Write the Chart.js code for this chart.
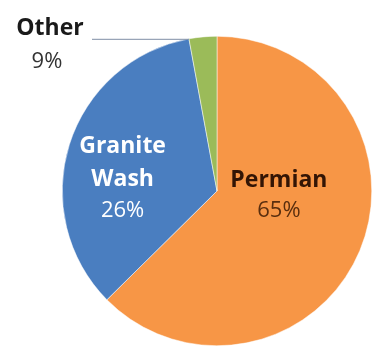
<!DOCTYPE html>
<html>
<head>
<meta charset="utf-8">
<script src="https://cdn.jsdelivr.net/npm/chart.js@4/dist/chart.umd.min.js"></script>
<style>
  html, body { margin: 0; padding: 0; background: #ffffff; }
  #wrap { width: 374px; height: 349px; position: relative; }
</style>
</head>
<body>
<div id="wrap"><canvas id="c" width="374" height="349"></canvas></div>
<script>
// Data (slice sizes as drawn, label text as printed)
const categories = ["Permian", "Granite Wash", "Other"];
const sliceValues = [62.6, 34.5, 2.9];
const percentLabels = ["65%", "26%", "9%"];
const sliceColors = ["#F79646", "#4A7EC0", "#9BBB59"];

const labelPlugin = {
  id: 'sliceLabels',
  afterDraw(chart) {
    const ctx = chart.ctx;
    const arcs = chart.getDatasetMeta(0).data;
    const a0 = arcs[0];
    const cx = a0.x, cy = a0.y, r = a0.outerRadius;
    ctx.save();
    ctx.textAlign = 'center';
    ctx.textBaseline = 'middle';
    const bold = 'bold 23px "Open Sans", sans-serif';
    const reg = '22px "Open Sans", sans-serif';
    // Permian
    let px = cx + 0.40 * r, py = cy - 0.07 * r;
    ctx.fillStyle = '#331505';
    ctx.font = bold; ctx.fillText(categories[0], px, py);
    ctx.fillStyle = '#5a2e0e';
    ctx.font = reg; ctx.fillText(percentLabels[0], px, py + 31);
    // Granite Wash
    let gx = cx - 0.61 * r, gy = cy - 0.29 * r;
    ctx.fillStyle = '#ffffff';
    ctx.font = bold;
    const parts = categories[1].split(' ');
    ctx.fillText(parts[0], gx, gy);
    ctx.fillText(parts[1], gx, gy + 33);
    ctx.font = reg; ctx.fillText(percentLabels[1], gx, gy + 65);
    // Other (outside with leader line)
    const top = cy - r;
    const oa = arcs[2];
    const ang = oa.startAngle;
    const lx = cx + r * Math.cos(ang), ly = cy + r * Math.sin(ang);
    ctx.strokeStyle = '#7f8ea6';
    ctx.lineWidth = 1;
    ctx.beginPath();
    ctx.moveTo(92, ly + 0.5);
    ctx.lineTo(lx, ly + 0.5);
    ctx.stroke();
    ctx.fillStyle = '#1a1a1a';
    ctx.font = bold; ctx.fillText(categories[2], 50, top - 8);
    ctx.fillStyle = '#333333';
    ctx.font = reg; ctx.fillText(percentLabels[2], 47, top + 25);
    ctx.restore();
  }
};

new Chart(document.getElementById('c'), {
  type: 'pie',
  data: {
    labels: categories,
    datasets: [{
      data: sliceValues,
      backgroundColor: sliceColors,
      borderColor: '#ffffff',
      borderWidth: 0.5
    }]
  },
  options: {
    responsive: false,
    animation: false,
    layout: { padding: { top: 33, bottom: 0, left: 62, right: 2 } },
    plugins: { legend: { display: false }, tooltip: { enabled: false } }
  },
  plugins: [labelPlugin]
});
</script>
</body>
</html>
